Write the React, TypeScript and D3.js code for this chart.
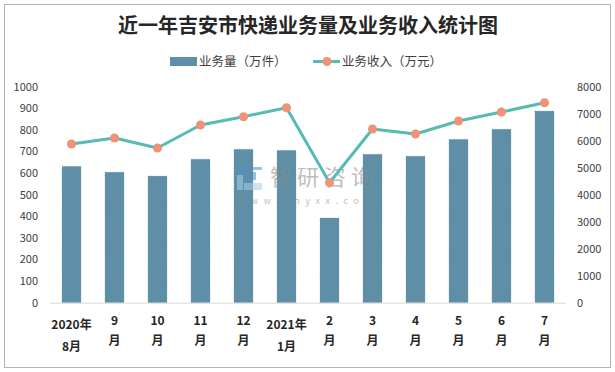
import React from "react";
import * as d3 from "d3";

const categories = ["2020年8月", "9月", "10月", "11月", "12月", "2021年1月", "2月", "3月", "4月", "5月", "6月", "7月"];
const labelRow1 = ["2020年", "9", "10", "11", "12", "2021年", "2", "3", "4", "5", "6", "7"];
const labelRow2 = ["8月", "月", "月", "月", "月", "1月", "月", "月", "月", "月", "月", "月"];
const volume = [631, 604, 586, 664, 710, 705, 392, 687, 678, 756, 803, 887];
const revenue = [5878, 6100, 5730, 6581, 6889, 7222, 4444, 6433, 6248, 6730, 7063, 7407];
const leftTicks = [0, 100, 200, 300, 400, 500, 600, 700, 800, 900, 1000];
const rightTicks = [0, 1000, 2000, 3000, 4000, 5000, 6000, 7000, 8000];
const title = "近一年吉安市快递业务量及业务收入统计图";
const legendBar = "业务量（万件）";
const legendLine = "业务收入（万元）";

const W = 615;
const H = 372;
const FONT = "'Noto Sans CJK SC', 'Noto Sans', sans-serif";
const BAR = "#5e8fa6";
const LINE = "#55bbb3";
const DOT = "#ef9275";
const TXT = "#404040";

export default function App() {
  const x = d3.scaleBand<string>().domain(categories).range([50, 566]).paddingInner(0.56).paddingOuter(0.28);
  const yL = d3.scaleLinear().domain([0, 1000]).range([302.7, 86.7]);
  const yR = d3.scaleLinear().domain([0, 8000]).range([302.7, 86.7]);
  const cx = (c: string) => (x(c) as number) + x.bandwidth() / 2;
  const line = d3
    .line<number>()
    .x((_, i) => cx(categories[i]))
    .y((d) => yR(d));

  return (
    <svg
      width={W}
      height={H}
      style={{ position: "absolute", left: 0, top: 0, background: "#fff" }}
      fontFamily={FONT}
    >
      <rect x={0} y={0} width={W} height={H} fill="#fff" />
      <rect x={4.5} y={4.5} width={606} height={363} fill="none" stroke="#b4b4b4" strokeWidth={1} />

      <text x={308} y={33} textAnchor="middle" fontSize={20} fontWeight="bold" fill="#262626">
        {title}
      </text>

      {/* legend */}
      <rect x={170} y={57} width={27} height={9} fill={BAR} />
      <text x={199} y={66} fontSize={12.5} fill={TXT}>
        {legendBar}
      </text>
      <line x1={313} x2={340} y1={61.5} y2={61.5} stroke={LINE} strokeWidth={3} />
      <circle cx={327} cy={61.5} r={4.5} fill={DOT} />
      <text x={342} y={66} fontSize={12.5} fill={TXT}>
        {legendLine}
      </text>

      {/* left axis labels */}
      {leftTicks.map((t) => (
        <text key={"l" + t} x={38} y={yL(t)} dy="0.35em" textAnchor="end" fontSize={11} fill={TXT}>
          {t}
        </text>
      ))}
      {/* right axis labels */}
      {rightTicks.map((t) => (
        <text key={"r" + t} x={577} y={yR(t)} dy="0.35em" textAnchor="start" fontSize={11} fill={TXT}>
          {t}
        </text>
      ))}

      {/* bars */}
      {volume.map((v, i) => (
        <rect
          key={"b" + i}
          x={x(categories[i])}
          y={yL(v)}
          width={x.bandwidth()}
          height={yL(0) - yL(v)}
          fill={BAR}
          stroke="#4f7f96"
          strokeWidth={0.6}
          strokeDasharray="1,1.5"
        />
      ))}

      {/* baseline */}
      <line x1={50} x2={566} y1={303.2} y2={303.2} stroke="#d9d9d9" strokeWidth={1} />

      {/* watermark */}
      <g opacity={0.55}>
        <rect x={237} y={167} width={9} height={7} fill="#4d8fd0" />
        <rect x={247} y={167} width={15} height={3} fill="#4d8fd0" />
        <rect x={237} y={175} width={6} height={15} fill="#a9cdee" />
        <rect x={244} y={183} width={18} height={7} fill="#a9cdee" />
        <rect x={252} y={172} width={4} height={8} fill="#4d8fd0" />
        <text x={270} y={185} fontSize={22} fill="#8a8a8a" letterSpacing={5}>
          智研咨询
        </text>
        <text x={238} y={204} fontSize={9} fill="#8a8a8a" letterSpacing={5.6}>
          www.chyxx.com
        </text>
      </g>

      {/* line */}
      <path d={line(revenue) || ""} fill="none" stroke={LINE} strokeWidth={3} strokeLinejoin="round" />
      {revenue.map((v, i) => (
        <circle key={"c" + i} cx={cx(categories[i])} cy={yR(v)} r={4.5} fill={DOT} />
      ))}

      {/* x labels */}
      {categories.map((c, i) => {
        const two = labelRow1[i].includes("年");
        return (
          <g key={"x" + i} fontSize={12} fontWeight="bold" fill="#262626" textAnchor="middle">
            <text x={cx(c)} y={two ? 324.5 : 321} dy="0.35em">
              {labelRow1[i]}
            </text>
            <text x={cx(c)} y={two ? 347 : 340.5} dy="0.35em">
              {labelRow2[i]}
            </text>
          </g>
        );
      })}
    </svg>
  );
}
